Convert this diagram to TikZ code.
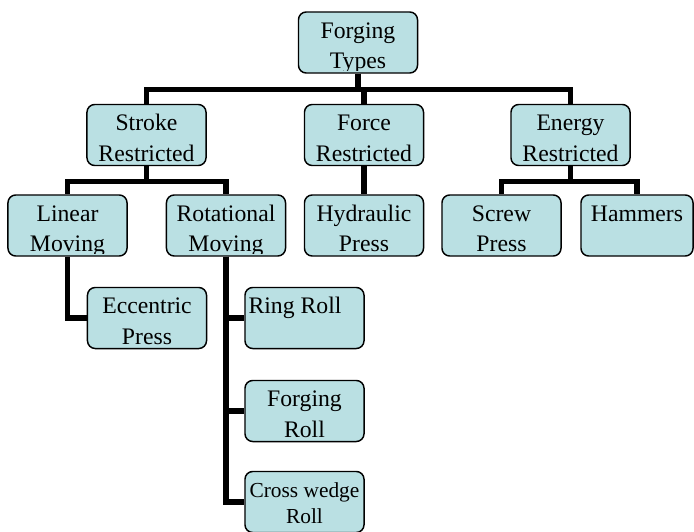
\documentclass[tikz,border=0pt]{standalone}
\usepackage{fontspec}
\setmainfont{Liberation Serif}
\usepackage{tikz}
\definecolor{boxfill}{RGB}{186,224,227}
\usetikzlibrary{calc}
\newcommand{\boxfont}{\fontsize{16.85}{22}\selectfont}
\tikzset{
  typebox/.style={draw=black, line width=1.05pt, fill=boxfill, rounded corners=5.5pt,
    minimum width=2.975cm, minimum height=1.525cm, inner sep=0pt},
  boxtext/.style={path picture={
      \clip ([yshift=1.8pt]path picture bounding box.south west) rectangle (path picture bounding box.north east);
      \node[anchor=base, inner sep=0pt, minimum size=0pt] at ([yshift=-18.5pt]path picture bounding box.north)
        {\parbox[t]{2.9cm}{\centering\boxfont #1}};
  }},
  link/.style={line width=3.9pt},
}

\begin{document}
\begin{tikzpicture}[x=0.025cm, y=-0.025cm]
\useasboundingbox (0,0) rectangle (694,531);

% Root
  \node[typebox, boxtext={Forging\\Types}] (forging) at (358,42.5) {};

% Restriction
  \node[typebox, boxtext={Stroke\\Restricted}] (stroke) at (146.5,135) {};
  \node[typebox, boxtext={Force\\Restricted}] (force) at (364,135) {};
  \node[typebox, boxtext={Energy\\Restricted}] (energy) at (570.5,135) {};

% Machines
  \node[typebox, boxtext={Linear\\Moving}] (linear) at (67.5,225.5) {};
  \node[typebox, boxtext={Rotational\\Moving}] (rotational) at (226,225.5) {};
  \node[typebox, boxtext={Hydraulic\\Press}] (hydraulic) at (364,225.5) {};
  \node[typebox, boxtext={Screw\\Press}] (screw) at (501.5,225.5) {};
  \node[typebox, minimum width=2.8cm, boxtext={Hammers}] (hammers) at (637,225.5) {};

% Sub types
  \node[typebox, boxtext={Eccentric\\Press}] (eccentric) at (147,318) {};
  \node[typebox, boxtext={\raggedright\hspace*{1.5pt}Ring Roll}] (ringroll) at (304.5,318) {};
  \node[typebox, boxtext={Forging\\Roll}] (forgingroll) at (304.5,411) {};
  \node[typebox, boxtext={\fontsize{15.2}{18.5}\selectfont Cross wedge\\Roll}] (crosswedge) at (304.5,502) {};

% Links
  \draw[link] (forging.south) -- ++(0,15.5) -| (stroke.north);
  \draw[link] (forging.south) -- ++(0,15.5) -| (force.north);
  \draw[link] (forging.south) -- ++(0,15.5) -| (energy.north);

  \draw[link] (stroke.south) -- ++(0,15.5) -| (linear.north);
  \draw[link] (stroke.south) -- ++(0,15.5) -| (rotational.north);
  \draw[link] (force.south) -- (hydraulic.north);
  \draw[link] (energy.south) -- ++(0,15.5) -| (screw.north);
  \draw[link] (energy.south) -- ++(0,15.5) -| (hammers.north);

  \draw[link] (linear.south) |- (eccentric.west);
  \draw[link] (rotational.south) |- (ringroll.west);
  \draw[link] (rotational.south) |- (forgingroll.west);
  \draw[link] (rotational.south) |- (crosswedge.west);

\end{tikzpicture}
\end{document}
